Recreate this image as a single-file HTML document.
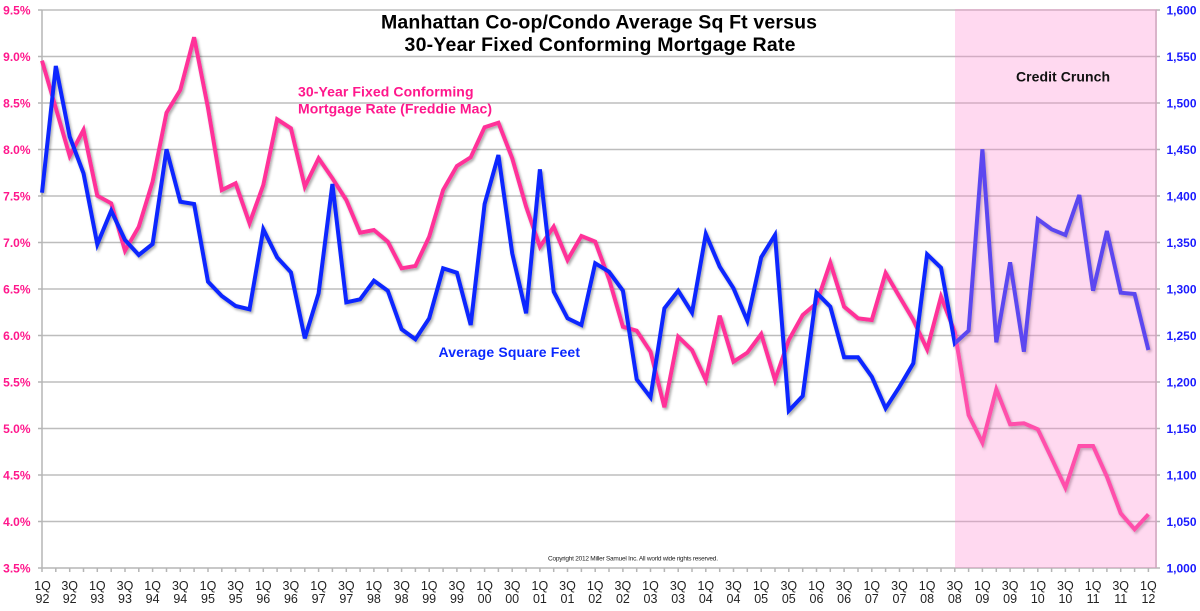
<!DOCTYPE html>
<html>
<head>
<meta charset="utf-8">
<style>
  html, body { margin: 0; padding: 0; background: #ffffff; }
  svg { display: block; }
  .xl { font-family: "Liberation Sans", Arial, sans-serif; font-size: 12.5px; fill: #222; }
  .ll { font-family: "Liberation Sans", Arial, sans-serif; font-size: 12px; font-weight: bold; fill: #ff178c; }
  .rl { font-family: "Liberation Sans", Arial, sans-serif; font-size: 12px; font-weight: bold; fill: #1a1aff; }
</style>
</head>
<body>
<svg width="1200" height="611" viewBox="0 0 1200 611" xmlns="http://www.w3.org/2000/svg">
  <defs>
    <filter id="sh" x="-5%" y="-5%" width="110%" height="110%">
      <feDropShadow dx="1.5" dy="2" stdDeviation="1.2" flood-color="#000" flood-opacity="0.33"/>
    </filter>
  </defs>
  <rect x="0" y="0" width="1200" height="611" fill="#ffffff"/>

  <!-- gridlines -->
  <g stroke="#bdbdbd" stroke-width="1.4">
    <line x1="42" y1="10" x2="1156" y2="10"/>
    <line x1="42" y1="56.5" x2="1156" y2="56.5"/>
    <line x1="42" y1="103" x2="1156" y2="103"/>
    <line x1="42" y1="149.5" x2="1156" y2="149.5"/>
    <line x1="42" y1="196" x2="1156" y2="196"/>
    <line x1="42" y1="242.5" x2="1156" y2="242.5"/>
    <line x1="42" y1="289" x2="1156" y2="289"/>
    <line x1="42" y1="335.5" x2="1156" y2="335.5"/>
    <line x1="42" y1="382" x2="1156" y2="382"/>
    <line x1="42" y1="428.5" x2="1156" y2="428.5"/>
    <line x1="42" y1="475" x2="1156" y2="475"/>
    <line x1="42" y1="521.5" x2="1156" y2="521.5"/>
  </g>

  <!-- axes -->
  <g stroke="#b5b5b5" stroke-width="1.5" fill="none">
    <line x1="42" y1="10" x2="42" y2="568"/>
    <line x1="1156" y1="10" x2="1156" y2="568"/>
    <line x1="38" y1="568" x2="1160" y2="568"/>
    <path d="M38 10H42M38 56.5H42M38 103H42M38 149.5H42M38 196H42M38 242.5H42M38 289H42M38 335.5H42M38 382H42M38 428.5H42M38 475H42M38 521.5H42
             M1156 10H1160M1156 56.5H1160M1156 103H1160M1156 149.5H1160M1156 196H1160M1156 242.5H1160M1156 289H1160M1156 335.5H1160M1156 382H1160M1156 428.5H1160M1156 475H1160M1156 521.5H1160"/>
    <path d="M42 568V572M55.8 568V572M69.7 568V572M83.5 568V572M97.3 568V572M111.2 568V572M125 568V572M138.8 568V572M152.6 568V572M166.5 568V572M180.3 568V572M194.1 568V572M208 568V572M221.8 568V572M235.6 568V572M249.5 568V572M263.3 568V572M277.1 568V572M290.9 568V572M304.8 568V572M318.6 568V572M332.4 568V572M346.3 568V572M360.1 568V572M373.9 568V572M387.8 568V572M401.6 568V572M415.4 568V572M429.2 568V572M443.1 568V572M456.9 568V572M470.7 568V572M484.6 568V572M498.4 568V572M512.2 568V572M526.1 568V572M539.9 568V572M553.7 568V572M567.5 568V572M581.4 568V572M595.2 568V572M609 568V572M622.9 568V572M636.7 568V572M650.5 568V572M664.4 568V572M678.2 568V572M692 568V572M705.8 568V572M719.7 568V572M733.5 568V572M747.3 568V572M761.2 568V572M775 568V572M788.8 568V572M802.7 568V572M816.5 568V572M830.3 568V572M844.1 568V572M858 568V572M871.8 568V572M885.6 568V572M899.5 568V572M913.3 568V572M927.1 568V572M941 568V572M954.8 568V572M968.6 568V572M982.4 568V572M996.3 568V572M1010.1 568V572M1023.9 568V572M1037.8 568V572M1051.6 568V572M1065.4 568V572M1079.3 568V572M1093.1 568V572M1106.9 568V572M1120.7 568V572M1134.6 568V572M1148.4 568V572"/>
  </g>

  <!-- series -->
  <g fill="none" stroke-width="4" stroke-linejoin="miter" stroke-miterlimit="4" filter="url(#sh)">
    <polyline stroke="#ff3399" points="42,60.7 55.8,108 69.7,156 83.5,130 97.3,195.7 111.2,203.3 125,250.7 138.8,226.7 152.6,181.7 166.5,112.7 180.3,90 194.1,37.3 208,108 221.8,190 235.6,183.3 249.5,223.3 263.3,185 277.1,119.3 290.9,128.3 304.8,186.7 318.6,158.3 332.4,178.3 346.3,200 360.1,232.7 373.9,230 387.8,241.7 401.6,268.3 415.4,266 429.2,236.7 443.1,190 456.9,166 470.7,157.3 484.6,127.3 498.4,122.7 512.2,158.3 526.1,206.7 539.9,246.7 553.7,226.7 567.5,260 581.4,236 595.2,241.7 609,279 622.9,326.7 636.7,330.7 650.5,351.7 664.4,407.3 678.2,336.7 692,350 705.8,380 719.7,315.7 733.5,361.7 747.3,352.7 761.2,334 775,380 788.8,340 802.7,315 816.5,303.3 830.3,262.7 844.1,306.7 858,318.3 871.8,320 885.6,273 899.5,296.7 913.3,320 927.1,349.3 941,296.7 954.8,332 968.6,415 982.4,442.7 996.3,389.3 1010.1,424.3 1023.9,423.3 1037.8,429.3 1051.6,458.3 1065.4,487.7 1079.3,446 1093.1,446 1106.9,476.7 1120.7,513.3 1134.6,529.3 1148.4,514.3"/>
    <polyline stroke="#0a28ff" points="42,192.7 55.8,66 69.7,136.7 83.5,173.3 97.3,244.3 111.2,210.7 125,240 138.8,255 152.6,244 166.5,149.3 180.3,201.7 194.1,204 208,281.7 221.8,296 235.6,306 249.5,309.3 263.3,229.3 277.1,257.3 290.9,272.3 304.8,338.3 318.6,293.3 332.4,184 346.3,302.3 360.1,299.3 373.9,280.7 387.8,290.7 401.6,329.3 415.4,339.3 429.2,318.3 443.1,268.3 456.9,272.7 470.7,325 484.6,204 498.4,155 512.2,253.3 526.1,313.3 539.9,169.3 553.7,291.7 567.5,318.3 581.4,325 595.2,263.3 609,271.7 622.9,290.7 636.7,379.3 650.5,397.3 664.4,308.3 678.2,290.7 692,312.7 705.8,234 719.7,266.7 733.5,288.3 747.3,320.7 761.2,257.3 775,235 788.8,410.7 802.7,396 816.5,292.7 830.3,306.7 844.1,357.3 858,357.3 871.8,376.7 885.6,408.3 899.5,386.7 913.3,363.3 927.1,254.3 941,267.7 954.8,343.3 968.6,330.7 982.4,149.3 996.3,342.3 1010.1,262.3 1023.9,351.7 1037.8,219.3 1051.6,229.3 1065.4,235 1079.3,195 1093.1,290.7 1106.9,231 1120.7,292.7 1134.6,294 1148.4,350"/>
  </g>

  <!-- credit crunch shading overlay -->
  <rect x="955" y="9" width="202" height="559" fill="rgb(255,140,209)" fill-opacity="0.33"/>

  <!-- titles -->
  <g font-family="'Liberation Sans', Arial, sans-serif" font-weight="bold" text-anchor="middle" fill="#000">
    <text x="599" y="28.5" font-size="19.5" textLength="436">Manhattan Co-op/Condo Average Sq Ft versus</text>
    <text x="600" y="51" font-size="19.5" textLength="391">30-Year Fixed Conforming Mortgage Rate</text>
  </g>
  <text x="1016" y="81.5" font-family="'Liberation Sans', Arial, sans-serif" font-weight="bold" font-size="14" fill="#111" textLength="94">Credit Crunch</text>

  <g font-family="'Liberation Sans', Arial, sans-serif" font-weight="bold" font-size="14" fill="#ff178c">
    <text x="298" y="96.7" textLength="175.5">30-Year Fixed Conforming</text>
    <text x="298" y="113.3" textLength="194">Mortgage Rate (Freddie Mac)</text>
  </g>
  <text x="438.5" y="357" font-family="'Liberation Sans', Arial, sans-serif" font-weight="bold" font-size="14" fill="#0a28ff" textLength="141.5">Average Square Feet</text>

  <text x="548" y="560.5" font-family="'Liberation Sans', Arial, sans-serif" font-size="6.5" fill="#222" textLength="170">Copyright 2012 Miller Samuel Inc. All world wide rights reserved.</text>

  <!-- left axis labels -->
  <g class="ll" text-anchor="end">
    <text x="30.5" y="14.3">9.5%</text>
    <text x="30.5" y="60.8">9.0%</text>
    <text x="30.5" y="107.3">8.5%</text>
    <text x="30.5" y="153.8">8.0%</text>
    <text x="30.5" y="200.3">7.5%</text>
    <text x="30.5" y="246.8">7.0%</text>
    <text x="30.5" y="293.3">6.5%</text>
    <text x="30.5" y="339.8">6.0%</text>
    <text x="30.5" y="386.3">5.5%</text>
    <text x="30.5" y="432.8">5.0%</text>
    <text x="30.5" y="479.3">4.5%</text>
    <text x="30.5" y="525.8">4.0%</text>
    <text x="30.5" y="572.3">3.5%</text>
  </g>

  <!-- right axis labels -->
  <g class="rl" text-anchor="start">
    <text x="1166.5" y="14.3">1,600</text>
    <text x="1166.5" y="60.8">1,550</text>
    <text x="1166.5" y="107.3">1,500</text>
    <text x="1166.5" y="153.8">1,450</text>
    <text x="1166.5" y="200.3">1,400</text>
    <text x="1166.5" y="246.8">1,350</text>
    <text x="1166.5" y="293.3">1,300</text>
    <text x="1166.5" y="339.8">1,250</text>
    <text x="1166.5" y="386.3">1,200</text>
    <text x="1166.5" y="432.8">1,150</text>
    <text x="1166.5" y="479.3">1,100</text>
    <text x="1166.5" y="525.8">1,050</text>
    <text x="1166.5" y="572.3">1,000</text>
  </g>

  <!-- x axis labels -->
  <g class="xl" text-anchor="middle">
    <text x="42.5" y="590">1Q</text><text x="42.5" y="603">92</text>
    <text x="69.7" y="590">3Q</text><text x="69.7" y="603">92</text>
    <text x="97.3" y="590">1Q</text><text x="97.3" y="603">93</text>
    <text x="125" y="590">3Q</text><text x="125" y="603">93</text>
    <text x="152.6" y="590">1Q</text><text x="152.6" y="603">94</text>
    <text x="180.3" y="590">3Q</text><text x="180.3" y="603">94</text>
    <text x="208" y="590">1Q</text><text x="208" y="603">95</text>
    <text x="235.6" y="590">3Q</text><text x="235.6" y="603">95</text>
    <text x="263.3" y="590">1Q</text><text x="263.3" y="603">96</text>
    <text x="290.9" y="590">3Q</text><text x="290.9" y="603">96</text>
    <text x="318.6" y="590">1Q</text><text x="318.6" y="603">97</text>
    <text x="346.3" y="590">3Q</text><text x="346.3" y="603">97</text>
    <text x="373.9" y="590">1Q</text><text x="373.9" y="603">98</text>
    <text x="401.6" y="590">3Q</text><text x="401.6" y="603">98</text>
    <text x="429.2" y="590">1Q</text><text x="429.2" y="603">99</text>
    <text x="456.9" y="590">3Q</text><text x="456.9" y="603">99</text>
    <text x="484.6" y="590">1Q</text><text x="484.6" y="603">00</text>
    <text x="512.2" y="590">3Q</text><text x="512.2" y="603">00</text>
    <text x="539.9" y="590">1Q</text><text x="539.9" y="603">01</text>
    <text x="567.5" y="590">3Q</text><text x="567.5" y="603">01</text>
    <text x="595.2" y="590">1Q</text><text x="595.2" y="603">02</text>
    <text x="622.9" y="590">3Q</text><text x="622.9" y="603">02</text>
    <text x="650.5" y="590">1Q</text><text x="650.5" y="603">03</text>
    <text x="678.2" y="590">3Q</text><text x="678.2" y="603">03</text>
    <text x="705.8" y="590">1Q</text><text x="705.8" y="603">04</text>
    <text x="733.5" y="590">3Q</text><text x="733.5" y="603">04</text>
    <text x="761.2" y="590">1Q</text><text x="761.2" y="603">05</text>
    <text x="788.8" y="590">3Q</text><text x="788.8" y="603">05</text>
    <text x="816.5" y="590">1Q</text><text x="816.5" y="603">06</text>
    <text x="844.1" y="590">3Q</text><text x="844.1" y="603">06</text>
    <text x="871.8" y="590">1Q</text><text x="871.8" y="603">07</text>
    <text x="899.5" y="590">3Q</text><text x="899.5" y="603">07</text>
    <text x="927.1" y="590">1Q</text><text x="927.1" y="603">08</text>
    <text x="954.8" y="590">3Q</text><text x="954.8" y="603">08</text>
    <text x="982.4" y="590">1Q</text><text x="982.4" y="603">09</text>
    <text x="1010.1" y="590">3Q</text><text x="1010.1" y="603">09</text>
    <text x="1037.8" y="590">1Q</text><text x="1037.8" y="603">10</text>
    <text x="1065.4" y="590">3Q</text><text x="1065.4" y="603">10</text>
    <text x="1093.1" y="590">1Q</text><text x="1093.1" y="603">11</text>
    <text x="1120.7" y="590">3Q</text><text x="1120.7" y="603">11</text>
    <text x="1148.4" y="590">1Q</text><text x="1148.4" y="603">12</text>
  </g>
</svg>
</body>
</html>
